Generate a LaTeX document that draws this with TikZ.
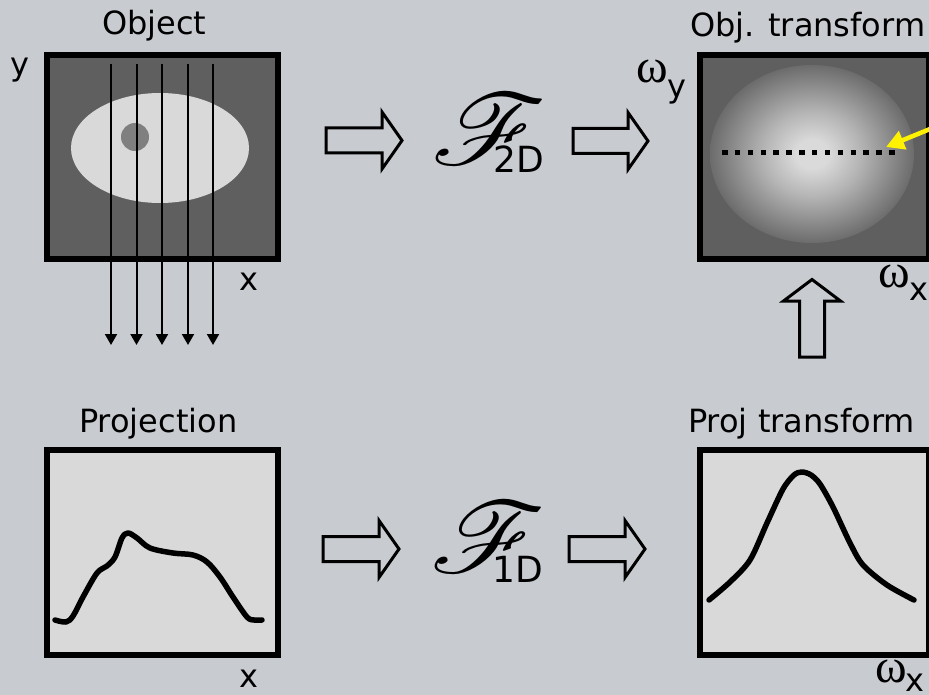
\documentclass[tikz,border=0pt]{standalone}
\usepackage{fontspec}
\setmainfont{DejaVu Sans}
\newfontfamily\grk{Liberation Serif}
\usepackage{mathrsfs}
\usepackage{graphicx}
\usetikzlibrary{arrows.meta}

\definecolor{bg}{HTML}{C8CBD0}
\definecolor{darkfill}{HTML}{5F5F5F}
\definecolor{lightfill}{HTML}{D9D9D9}
\definecolor{spot}{HTML}{7F7F7F}
\definecolor{gcen}{HTML}{DADADA}
\definecolor{gmid}{HTML}{B4B4B4}
\definecolor{gedge}{HTML}{6C6C6C}
\pgfdeclareradialshading{glow}{\pgfpoint{0bp}{0bp}}{%
  color(0bp)=(gcen); color(4bp)=(gcen); color(12bp)=(gmid);
  color(25bp)=(gedge); color(50bp)=(gedge)}

% right-pointing hollow block arrow: start x, tip x, centre y
\newcommand\blockright[3]{%
  \draw[blockarrow] (#1,#3-12.5) -- (#2-20,#3-12.5) -- (#2-20,#3-28.5)
    -- (#2,#3) -- (#2-20,#3+28.5) -- (#2-20,#3+12.5) -- (#1,#3+12.5) -- cycle;}
% large script F of the Fourier operator
\newcommand\fourierF{\scalebox{1.08}[0.97]{\resizebox{107pt}{!}{$\mathscr{F}$}}}

\begin{document}
\begin{tikzpicture}[x=1pt,y=-1pt,
  lbl/.style={font=\fontsize{32}{38}\selectfont, inner sep=0pt, anchor=base west},
  sub/.style={font=\fontsize{36}{40}\selectfont, inner sep=0pt, anchor=base west},
  omega/.style={font=\grk\fontsize{48}{52}\selectfont, inner sep=0pt, anchor=base west},
  frame/.style={draw=black, line width=6pt, inner sep=0pt, anchor=north west},
  blockarrow/.style={draw=black, line width=3pt, fill=bg, line join=miter},
  ray/.style={line width=2pt, -{Triangle[length=11pt,width=12pt]}},
  trace/.style={line width=5.5pt, line join=round, line cap=round}]

\fill[bg] (0,0) rectangle (929,695);
\useasboundingbox (0,0) rectangle (929,695);

% ---- object ----
\node[frame, fill=darkfill, minimum width=231pt, minimum height=204pt] (obj) at (44,52) {};
\fill[lightfill] (160,148) ellipse [x radius=89pt, y radius=55pt];
\fill[spot] (135,137) circle [radius=14pt];
\foreach \xx in {111,136.5,162,188,213}
  \draw[ray] (\xx,64) -- (\xx,345);
\node[lbl] (tobj) at (102,35) {Object};
\node[lbl] (ly) at (10,76) {y};
\node[lbl] (lx1) at (239,290) {x};

% ---- transform of the object ----
\node[frame, fill=darkfill, minimum width=229pt, minimum height=204pt] (objft) at (697,52) {};
\begin{scope}
  \clip (697,52) rectangle (926,256);
  \shade[shading=glow] (812,154) ellipse [x radius=102pt, y radius=89pt];
\end{scope}
\draw[line width=5.5pt, dash pattern=on 5.5pt off 7.35pt] (722,152.5) -- (895.5,152.5);
\node[lbl] (tobjft) at (690,37) {Obj. transform};
\node[omega] (wy) at (636,83) {ω};
\node[sub, font=\fontsize{32}{36}\selectfont] (wyy) at (667,98) {y};
\node[omega] (wx1) at (878,287) {ω};
\node[sub, font=\fontsize{32}{36}\selectfont] (wx1x) at (909,300) {x};
\coordinate (ytail) at (935,127);
\coordinate (ytip) at (886,147);
\draw[yellow, line width=4.5pt, -{Triangle[length=18pt,width=19pt]}] (ytail) -- (ytip);

% ---- projection ----
\node[frame, fill=lightfill, minimum width=231pt, minimum height=205pt] (proj) at (44,447) {};
\draw[trace] plot[smooth, tension=0.55] coordinates {(55,620) (66,622) (73,616) (83,597)
  (97,573) (107,566) (115,557) (122,538) (128,533) (137,538) (150,548) (173,553)
  (193,555) (207,562) (220,577) (233,597) (247,617) (254,620) (262,620)};
\node[lbl] (tproj) at (79,432) {Projection};
\node[lbl] (lx2) at (239,687) {x};

% ---- transform of the projection ----
\node[frame, fill=lightfill, minimum width=229pt, minimum height=205pt] (projft) at (697,447) {};
\draw[trace] plot[smooth, tension=0.5] coordinates {(709,600) (730,582) (750,560)
  (767,523) (783,489) (794,475) (802,472) (811,475) (820,484) (833,507) (850,543) (863,565) (887,585) (914,600)};
\node[lbl] (tprojft) at (688,432) {Proj transform};
\node[omega] (wx2) at (875,682) {ω};
\node[sub, font=\fontsize{32}{36}\selectfont] (wx2x) at (905,691) {x};

% ---- Fourier operators and block arrows ----
\blockright{326}{402}{140.5}
\blockright{573}{648}{141}
\blockright{323}{399}{549}
\blockright{569}{645}{549}
\node[inner sep=0pt] (f2) at (489,129) {\fourierF};
\node[sub] (f2s) at (493,173) {2D};
\node[inner sep=0pt] (f1) at (488,537) {\fourierF};
\node[sub] (f1s) at (492,582) {1D};

\draw[blockarrow] (799.5,357) -- (799.5,301) -- (783.5,301) -- (812,279.5)
  -- (840.5,301) -- (824.5,301) -- (824.5,357) -- cycle;
\end{tikzpicture}
\end{document}
